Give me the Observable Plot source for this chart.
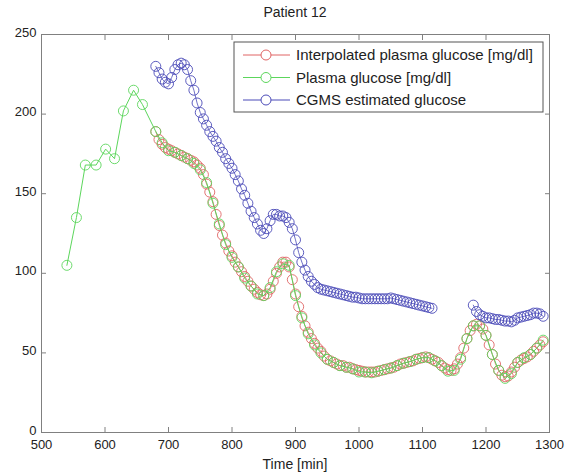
<!DOCTYPE html>
<html><head><meta charset="utf-8">
<script src="https://cdn.jsdelivr.net/npm/d3@7"></script>
<script src="https://cdn.jsdelivr.net/npm/@observablehq/plot@0.6"></script>
<style>
body{margin:0;background:#fff}
svg{font-family:"Liberation Sans",Arial,sans-serif}
</style>
</head><body><div id="chart"></div>
<script>
// ---- Data ----
const xTicks = [500, 600, 700, 800, 900, 1000, 1100, 1200, 1300];
const yTicks = [0, 50, 100, 150, 200, 250];
const seriesNames = ["Interpolated plasma glucose [mg/dl]", "Plasma glucose [mg/dl]", "CGMS estimated glucose"];
const seriesColors = ["#e06464", "#5cd65c", "#4b4bb8"];

// Interpolated plasma glucose, every 5 min from 680 to 1290
const redTimes = d3.range(680, 1291, 5);
const redValues = [
  189,184,181,179,178,177,176,175,174,173,
  172,171,170,168,166,162,156,151,145,137,
  130,124,119,114,111,107,104,101,98,95,
  92,90,88,86.5,86,87,90,95,100,104,
  107,107,104,96,87,79,73,67,63,59,
  56,53,51,48,46,45,44,43,42,42,
  41,41,40,39.5,39,38.5,38,38,38,38,
  38.5,39,39.5,40,40.5,41,42,43,43.5,44,
  44.5,45,46,46.5,47,47.5,47,46,45,44,
  42,40.5,39.5,39,40,43,47,53,59,64,
  67,68,67,65,61,55,49,43,39,36,
  35,35.5,38,41,44,45.5,46.5,47.5,49,51,
  53,55,57
];

// Plasma glucose samples
const greenTimes = [540,555,569,586,601,615,629,645,659,
  680,690,700,710,720,730,740,750,760,770,780,790,800,810,820,830,840,850,860,870,
  880,890,900,910,920,930,940,950,960,970,980,990,1000,1010,1020,1030,1040,1050,
  1060,1070,1080,1090,1100,1110,1120,1130,1140,1150,1160,1170,1180,1190,1200,1210,
  1220,1230,1240,1250,1260,1270,1280,1290];
const greenValues = [105,135,168,168,178,172,202,215,206,
  189,182,177,176,174,172,169,165,157,144,131,118,110,104,97,92,87,86,91,101,
  106,105,86,72,62,55,50,46,44,42,41,40,38,38,37.5,38.5,39.5,40.5,
  42,43.5,44.5,46,47,47,45,42,38.5,39,46,59,67,67,61,49,
  39,34,37,44,47,49,53,58];

// CGMS estimated glucose, every 5 min, two segments
const blue1Times = d3.range(680, 1116, 5);
const blue1Values = [
  230,226,222,220,219,223,228,231,232,231,
  228,221,215,207,201,197,193,189,186,183,
  179,176,172,169,166,162,158,153,149,144,
  139,135,131,127,125,128,133,137,137,136,
  136,135,132,128,121,113,107,102,98,95,
  93,91,90,89.5,89,88.5,88,87.5,87,86.5,
  86,85.5,85,85,84.5,84,84,84,84,84,
  84,84,84,84,84.5,84,83.5,83,82.5,82,
  81.5,81,80.5,80,79.5,79,78.5,78
];
const blue2Times = d3.range(1180, 1291, 5);
const blue2Values = [80,76,74,73,72,72,71.5,71,71,70.5,70,70,69.5,70.5,72,72.5,73,73.5,74,75,75,74.5,73];

// ---- Tables ----
const red = redTimes.map((t, i) => ({t, v: redValues[i]}));
const green = greenTimes.map((t, i) => ({t, v: greenValues[i]}));
const blue = [
  ...blue1Times.map((t, i) => ({t, v: blue1Values[i], seg: 1})),
  ...blue2Times.map((t, i) => ({t, v: blue2Values[i], seg: 2}))
];

const R = 5;
const fmt = d => String(d);
const noText = () => "";
const chart = Plot.plot({
  width: 567, height: 474,
  marginLeft: 41, marginRight: 18, marginTop: 34, marginBottom: 42,
  style: {fontFamily: "Liberation Sans, Arial, sans-serif", fontSize: "13px", color: "#222", background: "#fff", overflow: "visible"},
  x: {domain: [500, 1300], ticks: xTicks, label: null},
  y: {domain: [0, 250], ticks: yTicks, label: null},
  marks: [
    Plot.line(red, {x: "t", y: "v", stroke: seriesColors[0], strokeWidth: 0.8}),
    Plot.dot(red, {x: "t", y: "v", r: R, stroke: seriesColors[0], fill: "none", strokeWidth: 0.9}),
    Plot.line(green, {x: "t", y: "v", stroke: seriesColors[1], strokeWidth: 1}),
    Plot.dot(green, {x: "t", y: "v", r: R, stroke: seriesColors[1], fill: "none", strokeWidth: 0.9}),
    Plot.line(blue, {x: "t", y: "v", z: "seg", stroke: seriesColors[2], strokeWidth: 0.8}),
    Plot.dot(blue, {x: "t", y: "v", r: R, stroke: seriesColors[2], fill: "none", strokeWidth: 0.9}),
    Plot.frame({stroke: "#808080", strokeWidth: 1}),
    Plot.axisX({ticks: xTicks, tickSize: -5, tickPadding: 12, tickFormat: fmt, stroke: "#808080"}),
    Plot.axisX({ticks: xTicks, anchor: "top", tickSize: -5, tickFormat: noText, stroke: "#808080", label: null}),
    Plot.axisY({ticks: yTicks, tickSize: -5, tickFormat: noText, stroke: "#808080", label: null}),
    Plot.axisY({ticks: yTicks, tickSize: 0, tickPadding: 5, dy: -2, tickFormat: fmt}),
    Plot.axisY({ticks: yTicks, anchor: "right", tickSize: -5, tickFormat: noText, stroke: "#808080", label: null})
  ]
});
document.getElementById("chart").appendChild(chart);

// ---- Title, axis label, legend ----
const svg = d3.select(chart);
svg.append("text").attr("x", 295).attr("y", 17).attr("text-anchor", "middle")
  .attr("font-size", 14).attr("fill", "#222").text("Patient 12");
svg.append("text").attr("x", 295).attr("y", 469).attr("text-anchor", "middle")
  .attr("font-size", 14).attr("fill", "#222").text("Time [min]");

const lg = svg.append("g").attr("text-anchor", "start");
lg.append("rect").attr("x", 234).attr("y", 42).attr("width", 309).attr("height", 70)
  .attr("fill", "#fff").attr("stroke", "#555").attr("stroke-width", 1);
seriesNames.forEach((name, i) => {
  const cy = 55 + i * 22.5;
  lg.append("line").attr("x1", 243).attr("x2", 290).attr("y1", cy).attr("y2", cy)
    .attr("stroke", seriesColors[i]).attr("stroke-width", 1);
  lg.append("circle").attr("cx", 266).attr("cy", cy).attr("r", R)
    .attr("fill", "#fff").attr("stroke", seriesColors[i]).attr("stroke-width", 1);
  lg.append("text").attr("x", 296).attr("y", cy).attr("dy", "0.35em")
    .attr("text-anchor", "start")
    .attr("font-size", 15).attr("fill", "#222").text(name);
});
</script>
</body></html>
